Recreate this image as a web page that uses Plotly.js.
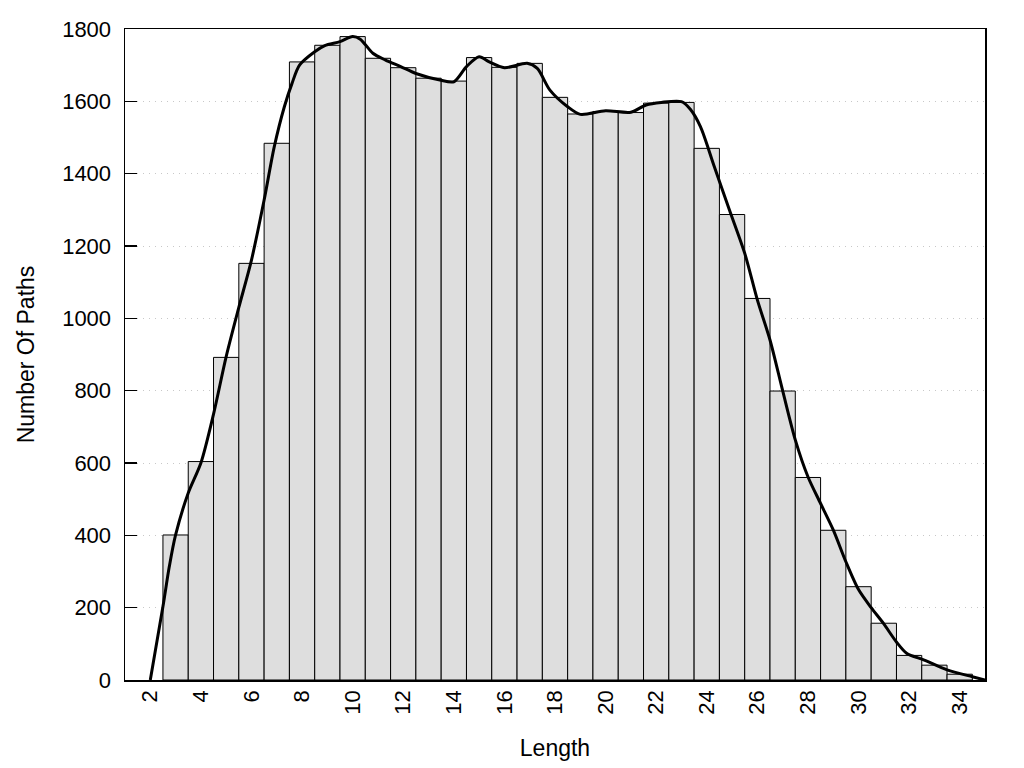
<!DOCTYPE html>
<html>
<head>
<meta charset="utf-8">
<script src="https://cdn.plot.ly/plotly-3.0.1.min.js"></script>
<style>html,body{margin:0;padding:0;background:#fff;}#chart{width:1024px;height:768px;}</style>
</head>
<body>
<div id="chart"></div>
<script>
// Histogram bars: path length vs number of paths
const lengths = [3,4,5,6,7,8,9,10,11,12,13,14,15,16,17,18,19,20,21,22,23,24,25,26,27,28,29,30,31,32,33,34];
const counts  = [401,604,892,1152,1484,1709,1755,1779,1719,1693,1664,1656,1721,1694,1705,1611,1565,1572,1569,1595,1597,1470,1287,1055,799,560,414,258,157,68,41,16];

// Smoothed density curve
const curveX = [2.0,2.5,2.75,3.0,3.5,4.0,4.5,5.0,5.5,6.0,6.5,6.9,7.3,7.6,7.9,8.5,8.9,9.5,10.0,10.3,10.8,11.3,11.9,12.5,13.45,14.0,14.5,15.0,15.4,16.0,16.9,17.3,17.8,18.5,19.0,20.0,21.0,21.6,22.2,23.0,23.35,23.75,24.3,24.9,25.5,26.0,26.5,27.0,27.5,28.0,28.5,29.0,29.5,30.0,30.5,31.0,31.5,31.9,32.6,33.5,34.5,35.0];
const curveY = [0,203,313,401,517,600,735,894,1030,1161,1327,1474,1585,1649,1700,1737,1754,1765,1779,1772,1733,1714,1696,1677,1659,1654,1696,1723,1709,1693,1705,1691,1631,1585,1564,1574,1570,1590,1597,1599,1578,1530,1419,1299,1180,1051,940,800,664,562,488,415,327,250,200,155,105,74,55,28,9,0];

const xTicks = [2,4,6,8,10,12,14,16,18,20,22,24,26,28,30,32,34];
const yTicks = [0,200,400,600,800,1000,1200,1400,1600,1800];

const fontFam = '"Liberation Sans", Arial, Helvetica, sans-serif';

const traces = [
  {
    type: 'bar', x: lengths, y: counts, width: 1,
    marker: {color: '#dedede', line: {color: '#000', width: 1}},
    hoverinfo: 'x+y'
  },
  {
    type: 'scatter', mode: 'lines', x: curveX, y: curveY,
    line: {color: '#000', width: 3, shape: 'spline', smoothing: 0.8},
    hoverinfo: 'skip'
  }
];

const layout = {
  width: 1024, height: 768,
  margin: {l: 125, r: 39, t: 29, b: 88},
  paper_bgcolor: '#fff', plot_bgcolor: '#fff',
  showlegend: false,
  bargap: 0,
  font: {family: fontFam, color: '#000', size: 22},
  xaxis: {
    range: [1, 35],
    tickvals: xTicks, ticktext: xTicks.map(String),
    tickangle: -90,
    ticks: '', showgrid: false, zeroline: false,
    showline: true, linecolor: '#000', linewidth: 1.5, mirror: true,
    tickfont: {size: 22, family: fontFam},
    title: {text: 'Length', font: {size: 23, family: fontFam}, standoff: 26}
  },
  yaxis: {
    range: [0, 1800],
    tickvals: yTicks, ticktext: yTicks.map(String),
    ticks: 'inside', ticklen: 12, tickcolor: '#000', tickwidth: 1.5,
    showgrid: true, gridcolor: '#c8c8c8', griddash: '1px,5px', gridwidth: 1,
    zeroline: false,
    showline: true, linecolor: '#000', linewidth: 1.5, mirror: true,
    tickfont: {size: 22, family: fontFam},
    ticklabelstandoff: 8,
    title: {text: 'Number Of Paths', font: {size: 23, family: fontFam}, standoff: 21}
  }
};

Plotly.newPlot('chart', traces, layout, {displayModeBar: false, staticPlot: true});
</script>
</body>
</html>
